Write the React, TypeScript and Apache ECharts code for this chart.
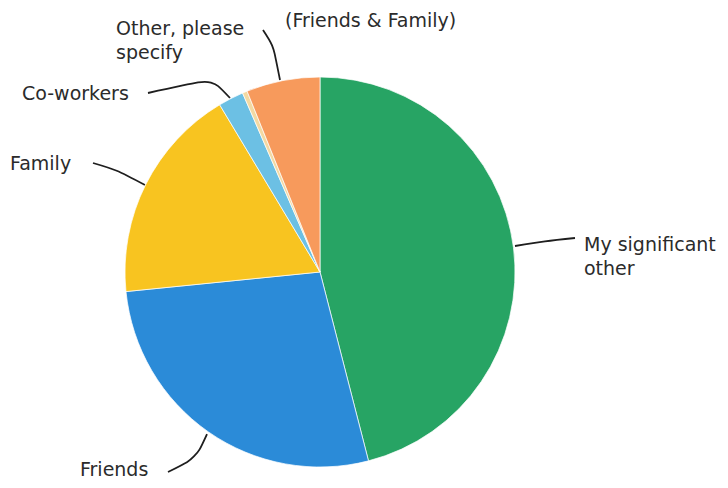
import React, { useEffect, useRef } from "react";
import * as echarts from "echarts";

const categories = ["My significant other", "Friends", "Family", "Co-workers", "(Friends & Family)", "Other, please specify"];
const labelTexts = ["My significant\nother", "Friends", "Family", "Co-workers", "(Friends & Family)", "Other, please\nspecify"];
const values = [46.0, 27.4, 18.0, 2.1, 0.4, 6.1];
const colors = ["#27a464", "#2b8bd8", "#f8c420", "#6cc0e4", "#f3d9a2", "#f79a5c"];

// label layout (positions only)
const labelPos: { x: number; y: number; pts: number[][] | null }[] = [
  { x: 584, y: 256, pts: [[515, 246], [545, 241], [575, 238]] },
  { x: 80, y: 469, pts: [[207, 434], [196, 458], [168, 472]] },
  { x: 10, y: 163, pts: [[145, 185], [117, 170], [93, 163]] },
  { x: 22, y: 93, pts: [[230, 98], [212, 79], [148, 93]] },
  { x: 285, y: 20, pts: null },
  { x: 116, y: 40, pts: [[280, 80], [273, 45], [263, 30]] },
];

export default function App() {
  const ref = useRef<HTMLDivElement>(null);
  useEffect(() => {
    document.body.style.margin = "0";
    const chart = echarts.init(ref.current!, null, { renderer: "svg" });
    chart.setOption({
      animation: false,
      backgroundColor: "#ffffff",
      series: [
        {
          type: "pie",
          center: [320, 272],
          radius: 195,
          startAngle: 90,
          clockwise: true,
          avoidLabelOverlap: false,
          itemStyle: { borderColor: "rgba(255,255,255,0.7)", borderWidth: 1 },
          label: {
            show: true,
            color: "#2b2b2b",
            fontSize: 19,
            lineHeight: 24,
            fontFamily: "DejaVu Sans",
            formatter: (p: any) => labelTexts[p.dataIndex],
          },
          labelLine: { show: true, smooth: 0.3, lineStyle: { color: "#1e1e1e", width: 1.8 } },
          labelLayout: (p: any) => {
            const lp = labelPos[p.dataIndex];
            const o: any = { x: lp.x, y: lp.y, align: "left", verticalAlign: "middle" };
            if (lp.pts) o.labelLinePoints = lp.pts;
            return o;
          },
          data: categories.map((c, i) => ({
            name: c,
            value: values[i],
            itemStyle: { color: colors[i] },
            labelLine: { show: labelPos[i].pts !== null },
          })),
        },
      ],
    });
    return () => chart.dispose();
  }, []);
  return <div ref={ref} style={{ width: 728, height: 488 }} />;
}
